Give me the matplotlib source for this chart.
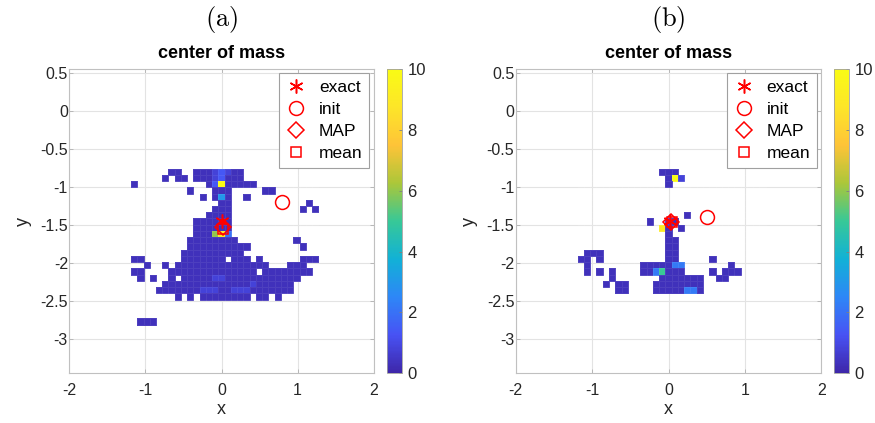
import numpy as np
import matplotlib
matplotlib.use("Agg")
import matplotlib.pyplot as plt
from matplotlib.colors import LinearSegmentedColormap

# 2D histogram of the centre of mass.
# One character per bin: '.' empty, a/b/c/d low counts, digits = value, X = 10.
BIN_W = 0.082
ROW0_Y = -0.80          # y centre of the first row
COL0_J = -14            # first column index (x centre = j * BIN_W)

HIST_A = [
    "......aa..aaabcbaa............",
    ".....a.aa.aaabcaaa............",
    "a...........acXaaaaa..........",
    ".........a...aaa.....aa.......",
    "...........a.a3a..a...........",
    "..............aa............a.",
    ".............aaa...........a.a",
    "............aaaa..............",
    "..........aaaaaa..............",
    "..........aaaaaa..............",
    "..........aaa692..............",
    ".........aaaaaaaa.........a...",
    ".........aaaaaaaaaa........a..",
    "........aaaaaaaaaa............",
    "aa......aaaaaaa.aaa.a......aaa",
    "..a..a.aaaaaaaaaaaaaaa...aaa..",
    "aa....aaaaaaaaaaaaaa.aaaaaaaa.",
    ".a.a..a.aaaaabbaaaaaaaaaaaa...",
    ".....aaaaaaaaaaaaaabaaaaaa....",
    "....aaaaaaabbbaabbbaaaaaaa....",
    ".......a.a.aaaaaaaa.aa.a......",
    "..............................",
    "..............................",
    "..............................",
    ".aaa..........................",
]

HIST_B = [
    ".............aaa..............",
    "..............aXb.............",
    "..............a...............",
    "..............................",
    "..............................",
    "..............................",
    "..............................",
    ".................a............",
    "...........a..ba..............",
    ".............9a.a.............",
    "..............a...............",
    "..............aa..............",
    "..............aa..............",
    ".aaa..........aa..............",
    "aa.a..........aa.....a........",
    ".a........aaaaadd.......a.....",
    ".a.a.a....aad5aaa....a.aaa....",
    ".....a.......aaaaaaa..aa......",
    "....a.aa....aaaaaaaa..........",
    "......aa....aaaaadda..........",
]

LEVELS = {".": np.nan, "a": 0.35, "b": 0.8, "c": 1.4, "d": 2.2, "X": 10.0}

# point estimates (x, y)
EXACT = {"a": (0.0, -1.45), "b": (0.02, -1.45)}
INIT = {"a": (0.80, -1.20), "b": (0.50, -1.40)}
MAP = {"a": (0.02, -1.53), "b": (0.03, -1.46)}
MEAN = {"a": (0.02, -1.55), "b": (0.04, -1.46)}

PARULA = [
    (0.2422, 0.1504, 0.6603), (0.2810, 0.3228, 0.9579),
    (0.1786, 0.5289, 0.9682), (0.0689, 0.6948, 0.8394),
    (0.2161, 0.7843, 0.5923), (0.6720, 0.7793, 0.2227),
    (0.9970, 0.7659, 0.2199), (0.9930, 0.9000, 0.1600),
    (0.9769, 0.9839, 0.0805),
]
parula = LinearSegmentedColormap.from_list("parula", PARULA)
ASTERISK = (6, 2, 0)


def to_grid(rows):
    vals = []
    for row in rows:
        vals.append([LEVELS[ch] if ch in LEVELS else float(ch) for ch in row])
    return np.ma.masked_invalid(np.array(vals))


def draw_panel(ax, cax, rows, key, label):
    z = to_grid(rows)
    nrow, ncol = z.shape
    xe = (np.arange(ncol + 1) + COL0_J - 0.5) * BIN_W
    ye = ROW0_Y + BIN_W / 2 - np.arange(nrow + 1) * BIN_W
    mesh = ax.pcolormesh(xe, ye, z, cmap=parula, vmin=0, vmax=10,
                         edgecolors=(1, 1, 1, 0.07), linewidth=0.4, zorder=2)

    ax.plot(*EXACT[key], marker=ASTERISK, color="red", ms=10, ls="none",
            mew=1.1, zorder=5, label="exact")
    ax.plot(*INIT[key], marker="o", mfc="none", mec="red", ms=10, ls="none",
            mew=1.1, zorder=5, label="init")
    ax.plot(*MAP[key], marker="D", mfc="none", mec="red", ms=8.5, ls="none",
            mew=1.1, zorder=5, label="MAP")
    ax.plot(*MEAN[key], marker="s", mfc="none", mec="red", ms=7.5, ls="none",
            mew=1.1, zorder=5, label="mean")

    ax.set_xlim(-2, 2)
    ax.set_ylim(-3.45, 0.55)
    ax.set_xticks([-2, -1, 0, 1, 2])
    ax.set_yticks([0.5, 0, -0.5, -1, -1.5, -2, -2.5, -3])
    ax.set_yticklabels(["0.5", "0", "-0.5", "-1", "-1.5", "-2", "-2.5", "-3"])
    ax.set_xticklabels(["-2", "-1", "0", "1", "2"])
    ax.grid(True, color="#e3e3e3", lw=0.8, zorder=0)
    ax.set_axisbelow(True)
    for s in ax.spines.values():
        s.set_color("#c0c0c0")
        s.set_linewidth(0.8)
    ax.tick_params(direction="in", length=3, width=0.6, color="#b0b0b0",
                   top=True, right=True, labelsize=11.5, labelcolor="#262626")
    ax.tick_params(axis="y", pad=1)
    ax.tick_params(axis="x", pad=7)
    ax.set_xlabel("x", fontsize=13, color="#262626", labelpad=2)
    ax.set_ylabel("y", fontsize=13, color="#262626", labelpad=6)
    ax.set_title("center of mass", fontsize=13, fontweight="bold", pad=8)

    leg = ax.legend(loc="upper right", fontsize=12.5, handletextpad=0.7,
                    borderpad=0.4, labelspacing=0.38, handlelength=1.2,
                    fancybox=False, framealpha=1, borderaxespad=0.25)
    leg.get_frame().set_edgecolor("#a0a0a0")
    leg.get_frame().set_linewidth(0.8)

    cb = plt.colorbar(mesh, cax=cax, ticks=[0, 2, 4, 6, 8, 10])
    cb.outline.set_edgecolor("#a0a0a0")
    cb.outline.set_linewidth(0.6)
    cax.tick_params(direction="in", length=2.5, width=0.6, color="#808080",
                    labelsize=12, labelcolor="#262626", pad=4)

    pos = ax.get_position()
    ax.figure.text(pos.x0 + pos.width / 2, 0.955, label,
                   ha="center", va="center", fontsize=19)


plt.rcParams["font.family"] = ["Liberation Sans", "DejaVu Sans"]
plt.rcParams["mathtext.fontset"] = "cm"

fig = plt.figure(figsize=(8.75, 4.23), dpi=100)
ax_a = fig.add_axes([0.0792, 0.1175, 0.348, 0.7194])
cax_a = fig.add_axes([0.442, 0.1175, 0.0171, 0.7194])
ax_b = fig.add_axes([0.5894, 0.1175, 0.3493, 0.7194])
cax_b = fig.add_axes([0.9535, 0.1175, 0.0168, 0.7194])

draw_panel(ax_a, cax_a, HIST_A, "a", r"$\mathrm{(a)}$")
draw_panel(ax_b, cax_b, HIST_B, "b", r"$\mathrm{(b)}$")

fig.savefig("out.png", dpi=100)
